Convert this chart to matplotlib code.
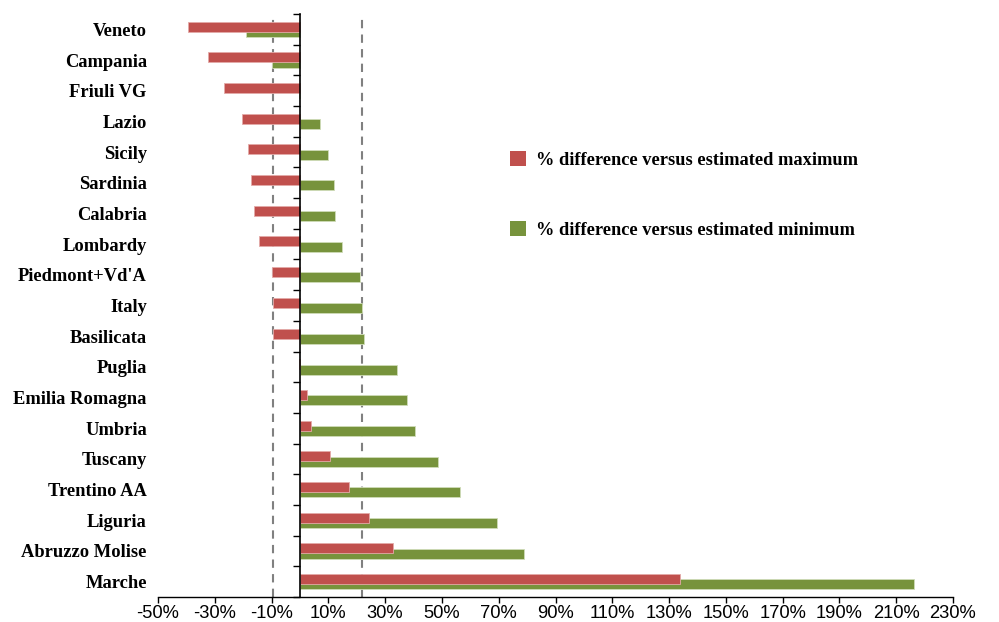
import numpy as np
import matplotlib
matplotlib.use("Agg")
import matplotlib.pyplot as plt
import matplotlib.transforms as mtransforms
from matplotlib.patches import Patch

regions = ["Veneto", "Campania", "Friuli VG", "Lazio", "Sicily", "Sardinia",
           "Calabria", "Lombardy", "Piedmont+Vd'A", "Italy", "Basilicata",
           "Puglia", "Emilia Romagna", "Umbria", "Tuscany", "Trentino AA",
           "Liguria", "Abruzzo Molise", "Marche"]

# % difference versus estimated maximum
diff_max = [-39.5, -32.5, -26.6, -20.3, -18.2, -17.2, -16.2, -14.5, -9.7,
            -9.5, -9.5, -0.3, 2.5, 3.8, 10.6, 17.2, 24.2, 32.6, 133.9]
# % difference versus estimated minimum
diff_min = [-18.9, -9.7, -0.3, 7.2, 10.0, 12.0, 12.4, 14.8, 21.1,
            21.7, 22.4, 34.0, 37.8, 40.6, 48.6, 56.3, 69.5, 78.9, 216.4]

x_ticks = list(range(-50, 231, 20))
x_ticklabels = [f"{t}%" for t in x_ticks]

label_max = "% difference versus estimated maximum"
label_min = "% difference versus estimated minimum"

RED = "#C0504D"
GREEN = "#77933C"

fig = plt.figure(figsize=(9.99, 6.22), dpi=100)
W, H = 999, 622
ax = fig.add_axes([158 / W, 25 / H, (953 - 158) / W, (608 - 25) / H])

y = np.arange(len(regions))
h = 0.326
off = 0.086

ax.barh(y + off, diff_min, height=h, color=GREEN, edgecolor="#cfdcb8",
        linewidth=0.6, zorder=2)
ax.barh(y - off, diff_max, height=h, color=RED, edgecolor="#e3aaa8",
        linewidth=0.6, zorder=3)

# Italy reference lines
italy = regions.index("Italy")
for v in (diff_max[italy], diff_min[italy]):
    ax.axvline(v, color="#808080", linestyle=(0, (4, 3)), linewidth=1.5,
               zorder=1)

ax.set_xlim(-50, 230)
ax.set_ylim(len(regions) - 0.5, -0.5)

ax.set_xticks(x_ticks)
ax.set_xticklabels(x_ticklabels, family="Liberation Sans", fontsize=13.2)
ax.tick_params(axis="x", direction="out", length=4, width=1, pad=2)

ax.spines["top"].set_visible(False)
ax.spines["right"].set_visible(False)
ax.spines["left"].set_position(("data", 0))
ax.spines["left"].set_linewidth(1.2)
ax.spines["bottom"].set_linewidth(1)
ax.spines["left"].set_zorder(4)

ax.set_yticks(np.arange(-0.5, len(regions), 1.0))
ax.set_yticklabels([])
ax.tick_params(axis="y", direction="out", length=5, width=1)

trans = mtransforms.blended_transform_factory(ax.transAxes, ax.transData)
trans = trans + mtransforms.ScaledTranslation(0, -2 / 100, fig.dpi_scale_trans)
for i, name in enumerate(regions):
    ax.text(-0.014, i, name, transform=trans, ha="right", va="center",
            family="Liberation Serif", fontweight="bold", fontsize=13.3)

handles = [Patch(facecolor=RED, edgecolor="none"),
           Patch(facecolor=GREEN, edgecolor="none")]
fig.legend(handles, [label_max, label_min], loc="upper left",
           bbox_to_anchor=(510 / W, 1 - 151 / H), frameon=False,
           prop={"family": "Liberation Serif", "weight": "bold", "size": 13.2},
           handlelength=0.87, handleheight=0.87, handletextpad=0.55,
           labelspacing=2.85, borderpad=0, borderaxespad=0)

fig.savefig("out.png", dpi=100)
